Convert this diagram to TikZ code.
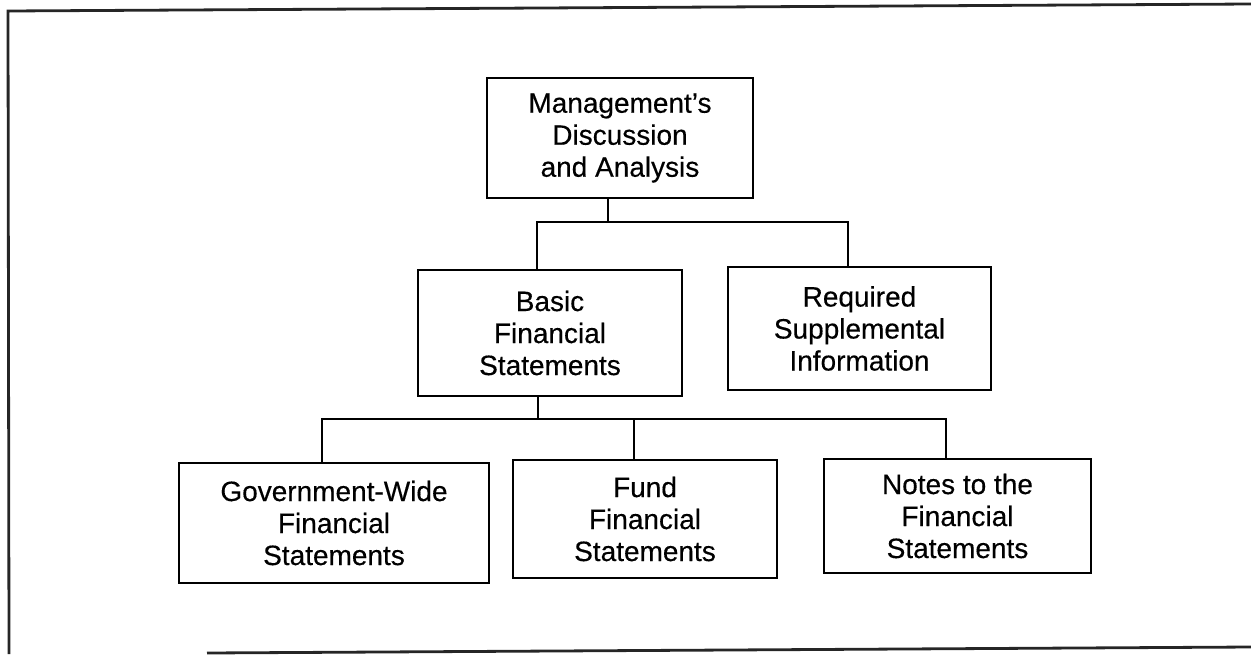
\documentclass[tikz,border=0pt]{standalone}
\usepackage{fontspec}
\setmainfont{Liberation Sans}
\newfontfamily\scanfont[FakeBold=0.35,Ligatures=TeX]{Liberation Sans}
\begin{document}
\begin{tikzpicture}[x=1pt,y=-1pt,
  box/.style={draw=black, line width=2.6pt, align=center, inner sep=0pt,
    font=\scanfont\fontsize{28}{32}\selectfont},
  conn/.style={draw=black, line width=2.6pt},
  frame/.style={draw=black!85, line width=2.8pt}]
\useasboundingbox (0,0) rectangle (1251,654);
% outer frame (open at right and bottom-left)
\coordinate (ftl) at (8,11);
\coordinate (ftr) at (1251,4);
\coordinate (fbl) at (9,654);
\coordinate (fbs) at (207,653);
\coordinate (fbr) at (1251,647);
\draw[frame] (ftr) -- (ftl) -- (fbl);
\draw[frame] (fbs) -- (fbr);
% boxes
\node[box, minimum width=266pt, minimum height=120pt] (mda) at (620,138)
  {Management’s\\Discussion\\and Analysis};
\node[box, minimum width=264pt, minimum height=126pt] (basic) at (550,333)
  {Basic\\Financial\\Statements};
\node[box, minimum width=263pt, minimum height=123pt] (req) at (859.5,328.5)
  {Required\\Supplemental\\Information};
\node[box, minimum width=310pt, minimum height=120pt] (gov) at (334,523)
  {Government-Wide\\Financial\\Statements};
\node[box, minimum width=264pt, minimum height=118pt] (fund) at (645,519)
  {Fund\\Financial\\Statements};
\node[box, minimum width=267pt, minimum height=114pt] (notes) at (957.5,516)
  {Notes to the\\Financial\\Statements};
% junctions
\coordinate (j1) at (608,222);
\coordinate (t1l) at (537,222);
\coordinate (t1r) at (848,222);
\coordinate (t2c) at (538,419);
\coordinate (t2l) at (322,419);
\coordinate (t2m) at (634,419);
\coordinate (t2r) at (946,419);
% connectors
\draw[conn] (mda.south -| j1) -- (j1);
\draw[conn] (basic.north -| t1l) -- (t1l) -- (t1r) -- (req.north -| t1r);
\draw[conn] (basic.south -| t2c) -- (t2c);
\draw[conn] (gov.north -| t2l) -- (t2l) -- (t2r) -- (notes.north -| t2r);
\draw[conn] (fund.north -| t2m) -- (t2m);
\end{tikzpicture}
\end{document}
